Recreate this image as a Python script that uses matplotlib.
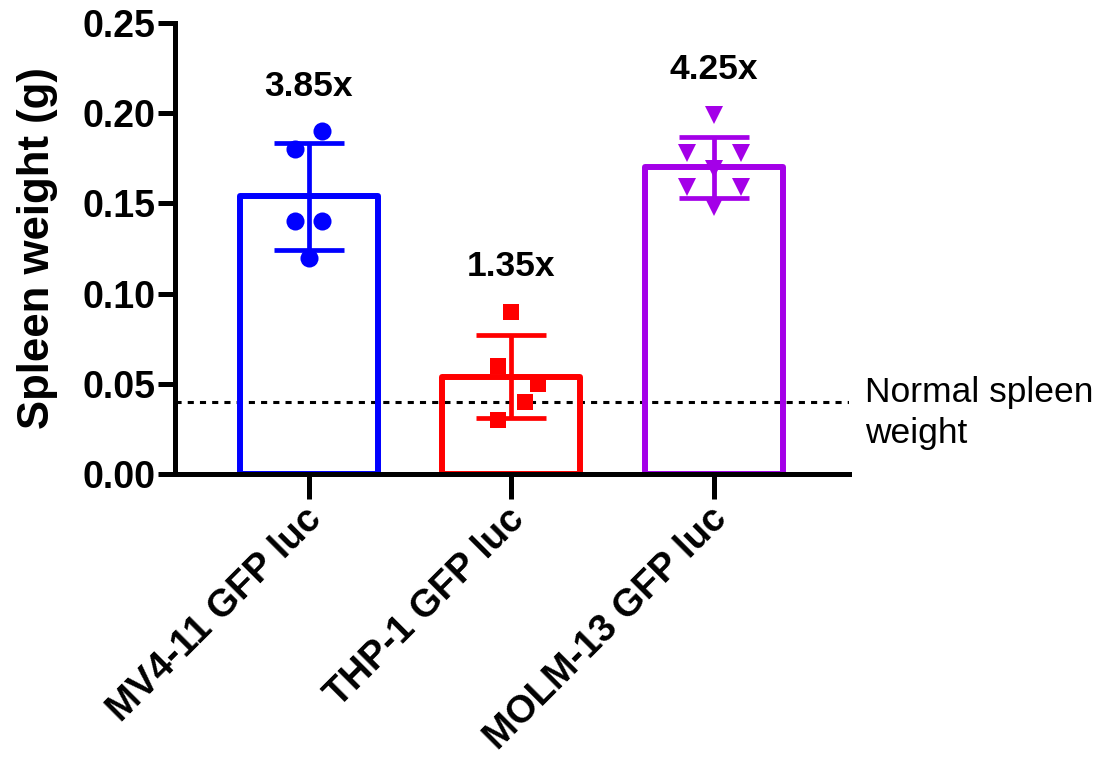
import numpy as np
import matplotlib
matplotlib.use("Agg")
import matplotlib.pyplot as plt
from matplotlib.transforms import ScaledTranslation

plt.rcParams['font.family'] = ['Liberation Sans', 'DejaVu Sans']

# Spleen weights (g) per mouse, by cell line
groups = ["MV4-11 GFP luc", "THP-1 GFP luc", "MOLM-13 GFP luc"]
mv411 = [0.19, 0.18, 0.14, 0.14, 0.12]
thp1 = [0.09, 0.06, 0.05, 0.04, 0.03]
molm13 = [0.199, 0.178, 0.178, 0.169, 0.159, 0.159, 0.148]
normal_weight = 0.04
yticks = [0.00, 0.05, 0.10, 0.15, 0.20, 0.25]

# horizontal scatter offsets of the points within each bar
jitter = [
    [1, -1, -1, 1, 0],
    [0, -1, 2, 1, -1],
    [0, -2, 2, 0, -2, 2, 0],
]
colors = ["#0000FF", "#FF0000", "#A400E8"]
markers = ["o", "s", "v"]

data = [mv411, thp1, molm13]
means = [np.mean(d) for d in data]
sds = [np.std(d, ddof=1) for d in data]

fig = plt.figure(figsize=(11.01, 7.62), dpi=100)
ax = fig.add_axes([175 / 1101, 1 - 474 / 762, 674 / 1101, 451 / 762])

x = np.arange(len(groups))
ax.axhline(normal_weight, color="black", lw=2.2, ls=(0, (2, 2)), zorder=1)

for i, d in enumerate(data):
    ax.bar(x[i], means[i], width=0.68, facecolor="none", edgecolor=colors[i],
           linewidth=4.3, zorder=2, joinstyle="round")
    ax.errorbar(x[i], means[i], yerr=sds[i], color=colors[i], elinewidth=3.4,
                capsize=25, capthick=3.4, fmt="none", zorder=3)
    xs = x[i] + 0.066 * np.array(jitter[i])
    ms = 13 if markers[i] != "s" else 12
    ax.plot(xs, d, ls="none", marker=markers[i], color=colors[i],
            markersize=ms, markeredgewidth=0, zorder=4)
    ax.text(x[i], max(d) + 0.025, f"{means[i] / normal_weight:.2f}x",
            ha="center", va="center", fontsize=25.5, fontweight="bold")

ax.text(2.746, normal_weight + 0.0142, "Normal spleen\nweight", ha="left",
        va="top", fontsize=25.5, linespacing=1.3, clip_on=False)

ax.set_xlim(-0.66, 2.667)
ax.set_ylim(0, 0.25)
ax.set_yticks(yticks)
ax.set_yticklabels([f"{t:.2f}" for t in yticks])
ax.set_xticks(x)
ax.set_xticklabels(groups, rotation=45, ha="right", rotation_mode="anchor")

for s in ["top", "right"]:
    ax.spines[s].set_visible(False)
for s in ["left", "bottom"]:
    ax.spines[s].set_linewidth(3.6)
    ax.spines[s].set_capstyle("projecting")

ax.tick_params(axis="y", length=12, width=3.6, labelsize=27, pad=2)
ax.tick_params(axis="x", length=18, width=3.6, labelsize=27.5, pad=2)
shift = ScaledTranslation(-5 / 100, 1 / 100, fig.dpi_scale_trans)
for lab in ax.get_xticklabels():
    lab.set_fontweight("bold")
    lab.set_transform(lab.get_transform() + shift)
for lab in ax.get_yticklabels():
    lab.set_fontweight("bold")

ax.set_ylabel("Spleen weight (g)", fontsize=31.5, fontweight="bold")
ax.yaxis.set_label_coords(-0.174, 0.5)

fig.savefig("out.png", dpi=100)
